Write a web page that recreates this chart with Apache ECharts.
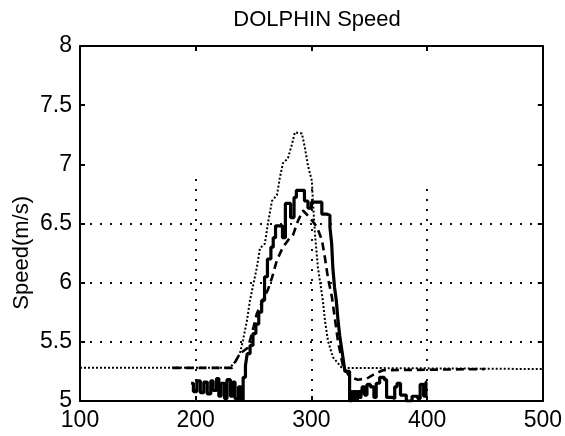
<!DOCTYPE html>
<html>
<head>
<meta charset="utf-8">
<script src="https://cdn.jsdelivr.net/npm/echarts@6/dist/echarts.min.js"></script>
<style>
html,body{margin:0;padding:0;background:#fff;}
#chart{width:565px;height:436px;}
</style>
</head>
<body>
<div id="chart"></div>
<script>
// ---- data ----
const xTickLabels = [100, 200, 300, 400, 500];
const yTickLabels = [5, 5.5, 6, 6.5, 7, 7.5, 8];

// thin dotted series
const dottedX = [100, 229.6, 233.9, 238.2, 240.8, 244.3, 246.9, 252.9, 255.5, 259.8, 262.4, 265.9, 270.2, 272.8, 275.4, 279.7, 283.2, 285.7, 291.8, 294.4, 297.0, 300.4, 301.3, 303.0, 305.6, 309.9, 311.7, 314.3, 318.6, 326.3, 500];
const dottedY = [5.28, 5.28, 5.33, 5.40, 5.51, 5.68, 5.85, 6.13, 6.29, 6.33, 6.50, 6.69, 6.74, 6.89, 7.01, 7.05, 7.17, 7.27, 7.26, 7.14, 6.99, 6.86, 6.69, 6.42, 6.13, 5.85, 5.68, 5.51, 5.37, 5.28, 5.27];

// thick dashed series
const dashedX = [180, 231.3, 238.2, 245.1, 248.6, 252.9, 262.4, 265.9, 270.2, 275.4, 281.4, 284.0, 288.3, 292.7, 298.7, 304.8, 309.1, 311.7, 314.3, 317.7, 322.9, 327.2, 333.3, 340.2, 348, 354.9, 361.8, 450];
const dashedY = [5.28, 5.28, 5.40, 5.45, 5.57, 5.74, 5.94, 6.04, 6.19, 6.30, 6.38, 6.40, 6.52, 6.61, 6.55, 6.47, 6.36, 6.21, 6.04, 5.88, 5.51, 5.30, 5.20, 5.18, 5.19, 5.23, 5.26, 5.27];

// thick solid (stepped) series
const solidX = [196, 198, 201, 204, 207, 210, 213, 215, 218, 220, 222, 225, 227, 230, 232, 234, 237, 239,
  241, 243, 244.5, 247, 249.5, 252, 254.5, 257, 259.5, 262, 265, 267, 269, 275, 277.5, 282, 285, 287, 294, 297, 300, 309, 313, 316, 317.5, 318.5, 320, 321.5, 323, 324.5, 326, 327.5, 329,
  333, 335, 336.5, 338, 339.5, 341, 342.5, 344, 346, 348, 351, 354, 356, 359, 363, 365, 370, 372, 374, 377, 382, 387, 392, 394, 397, 399, 400];
const solidY = [5.15, 5.08, 5.17, 5.07, 5.16, 5.06, 5.17, 5.09, 5.19, 5.04, 5.15, 5.02, 5.18, 5.04, 5.16, 5.02, 5.12, 5.01,
  5.20, 5.30, 5.40, 5.47, 5.57, 5.65, 5.75, 5.85, 6.05, 6.20, 6.30, 6.38, 6.48, 6.38, 6.67, 6.55, 6.72, 6.78, 6.69, 6.63, 6.68, 6.58, 6.57, 6.47, 6.33, 6.13, 5.96, 5.85, 5.68, 5.55, 5.45, 5.35, 5.25,
  5.00, 5.09, 5.00, 5.09, 5.00, 5.09, 5.02, 5.12, 5.05, 5.14, 5.12, 5.03, 5.15, 5.20, 5.18, 5.03, 5.02, 5.12, 5.15, 5.05, 5.00, 5.04, 5.02, 5.14, 5.04, 5.16, 5.16];

// partial dotted grid lines
const hGridY = [5.5, 6, 6.5];
const vGridX = [200, 300, 400];
const vGridTop = [6.9, 6.8, 6.86];

const zip = (xs, ys) => xs.map((x, i) => [x, ys[i]]);

const FONT = '"Liberation Sans", Arial, Helvetica, sans-serif';
const gridStyle = { color: '#111', width: 2, type: [2, 8] };

const chart = echarts.init(document.getElementById('chart'), null, { renderer: 'canvas' });

const axisCommon = {
  type: 'value',
  axisLine: { show: true, lineStyle: { color: '#000', width: 2 } },
  axisTick: { show: true, inside: true, length: 5, lineStyle: { color: '#000', width: 2 } },
  splitLine: { show: false }
};

chart.setOption({
  animation: false,
  backgroundColor: '#fff',
  title: {
    text: 'DOLPHIN Speed',
    left: 312, top: 4, textAlign: 'center',
    textStyle: { fontFamily: FONT, fontSize: 22, fontWeight: 'normal', color: '#000' }
  },
  graphic: [{
    type: 'text',
    left: 11, top: 196,
    rotation: Math.PI / 2,
    style: { text: 'Speed(m/s)', font: '22px ' + FONT, fill: '#000' }
  }],
  grid: { left: 80, right: 22, top: 46, bottom: 35 },
  xAxis: [
    Object.assign({}, axisCommon, {
      min: 100, max: 500, interval: 100, position: 'bottom',
      axisLabel: { show: true, margin: 8, fontFamily: FONT, fontSize: 23, color: '#000',
        formatter: v => xTickLabels.includes(v) ? String(v) : '' }
    }),
    Object.assign({}, axisCommon, {
      min: 100, max: 500, interval: 100, position: 'top',
      axisLabel: { show: false }
    })
  ],
  yAxis: [
    Object.assign({}, axisCommon, {
      min: 5, max: 8, interval: 0.5, position: 'left',
      axisLabel: { show: true, margin: 8, fontFamily: FONT, fontSize: 23, color: '#000',
        formatter: v => yTickLabels.includes(v) ? String(v) : '' }
    }),
    Object.assign({}, axisCommon, {
      min: 5, max: 8, interval: 0.5, position: 'right',
      axisLabel: { show: false }
    })
  ],
  series: [
    {
      name: 'grid', type: 'line', data: [], silent: true, z: 1,
      markLine: {
        silent: true, symbol: 'none', animation: false,
        label: { show: false },
        lineStyle: gridStyle,
        data: hGridY.map(y => [{ coord: [100, y] }, { coord: [500, y] }])
          .concat(vGridX.map((x, i) => [{ coord: [x, 5] }, { coord: [x, vGridTop[i]] }]))
      }
    },
    {
      name: 'dotted', type: 'line', data: zip(dottedX, dottedY), showSymbol: false, z: 3,
      lineStyle: { color: '#000', width: 2, type: [2, 2] }
    },
    {
      name: 'dashed', type: 'line', data: zip(dashedX, dashedY), showSymbol: false, z: 4,
      lineStyle: { color: '#000', width: 2.6, type: [8, 5] }
    },
    {
      name: 'solid', type: 'line', data: zip(solidX, solidY), showSymbol: false, step: 'end', z: 5,
      lineStyle: { color: '#000', width: 3.2 }
    }
  ]
});
</script>
</body>
</html>
